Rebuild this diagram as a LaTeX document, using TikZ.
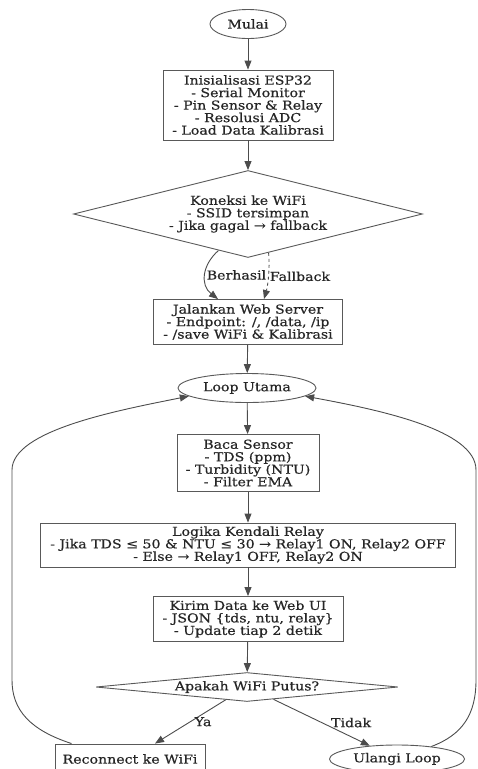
\documentclass[tikz,border=0pt]{standalone}
\usepackage{fontspec}
\setmainfont{DejaVu Serif}[FakeStretch=1.15, FakeBold=0.6]
\usetikzlibrary{shapes.geometric, arrows.meta}

\tikzset{
	box/.style={draw=black!65, line width=0.9pt, rectangle, align=center, inner sep=1pt},
	oval/.style={draw=black!65, line width=0.9pt, ellipse, inner sep=0pt},
	choice/.style={draw=black!65, line width=0.9pt, diamond, align=center, inner sep=0pt},
	flow/.style={draw=black!70, line width=0.9pt, -{Triangle[length=9pt,width=7pt]}},
	lbl/.style={inner sep=1pt},
}

\begin{document}
\begin{tikzpicture}[x=1pt, y=-1pt, font=\fontsize{12.3}{12.5}\selectfont, text=black!85]

	\useasboundingbox (0,0) rectangle (478,769);

	\node[oval, minimum width=76, minimum height=29] (mulai) at (248,24) {Mulai};
	\node[box, minimum width=170, minimum height=70] (init) at (248,105) {Inisialisasi ESP32\\- Serial Monitor\\- Pin Sensor \& Relay\\- Resolusi ADC\\- Load Data Kalibrasi};
	\node[choice, aspect=4.01, minimum width=349, minimum height=87] (koneksi) at (248,214) {Koneksi ke WiFi\\- SSID tersimpan\\- Jika gagal → fallback};
	\node[box, minimum width=189, minimum height=45] (server) at (248,322) {Jalankan Web Server\\- Endpoint: /, /data, /ip\\- /save WiFi \& Kalibrasi};
	\node[oval, minimum width=138, minimum height=29] (loop) at (247,388) {Loop Utama};
	\node[box, minimum width=142, minimum height=57] (baca) at (248,463) {Baca Sensor\\- TDS (ppm)\\- Turbidity (NTU)\\- Filter EMA};
	\node[box, minimum width=415, minimum height=44] (logika) at (248,545) {Logika Kendali Relay\\- Jika TDS ≤ 50 \& NTU ≤ 30 → Relay1 ON, Relay2 OFF\\- Else → Relay1 OFF, Relay2 ON};
	\node[box, minimum width=190, minimum height=45] (kirim) at (248,619) {Kirim Data ke Web UI\\- JSON \{tds, ntu, relay\}\\- Update tiap 2 detik};
	\node[choice, aspect=10.4, minimum width=302, minimum height=29] (putus) at (247,687) {Apakah WiFi Putus?};
	\node[box, minimum width=150, minimum height=30] (reconnect) at (130,759) {Reconnect ke WiFi};
	\node[oval, minimum width=135, minimum height=28] (ulangi) at (397,759) {Ulangi Loop};

	\draw[flow] (mulai) -- (init);
	\draw[flow] (init) -- (koneksi);
	\draw[flow] (koneksi.231) .. controls (202,265) and (200,285) .. node[lbl, anchor=west] {Berhasil} ([xshift=-30]server.north);
	\draw[flow, dashed] (koneksi.298) .. controls (270,268) and (268,285) .. node[lbl, anchor=west] {Fallback} ([xshift=16]server.north);
	\draw[flow] (server) -- (loop);
	\draw[flow] (loop) -- (baca);
	\draw[flow] (baca) -- (logika);
	\draw[flow] (logika) -- (kirim);
	\draw[flow] (kirim) -- (putus);
	\draw[flow] (putus.211) -- node[lbl, right=3pt] {Ya} ([xshift=25]reconnect.north);
	\draw[flow] (putus.335) -- node[lbl, right=8pt] {Tidak} (ulangi.154);

	% kembali ke loop utama
	\draw[flow] ([xshift=17]reconnect.north west) .. controls (30,730) and (12,710) .. (12,680) -- (12,470) .. controls (12,430) and (120,410) .. (loop.188);
	\draw[flow] (ulangi.20) .. controls (462,735) and (476,715) .. (476,680) -- (476,470) .. controls (476,430) and (380,410) .. (loop.352);

\end{tikzpicture}
\end{document}
